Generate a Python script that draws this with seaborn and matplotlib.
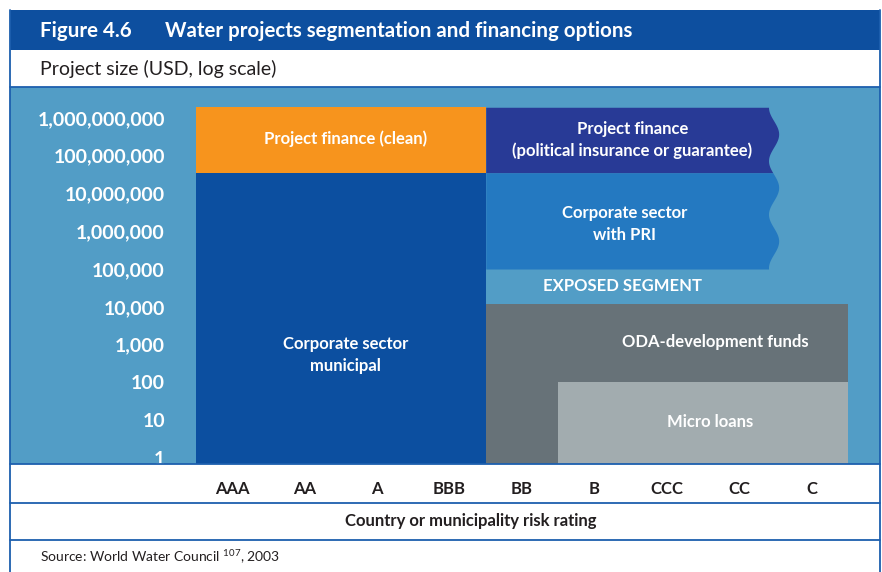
import numpy as np
import seaborn as sns
import matplotlib.pyplot as plt
from matplotlib.patches import Rectangle
from matplotlib.ticker import NullLocator

# ---- data -------------------------------------------------------------
ratings = ["AAA", "AA", "A", "BBB", "BB", "B", "CCC", "CC", "C"]
size_ticks = [1, 10, 100, 1_000, 10_000, 100_000, 1_000_000,
              10_000_000, 100_000_000, 1_000_000_000]

segments = ["Project finance (clean)",
            "Project finance\n(political insurance or guarantee)",
            "Corporate sector\nwith PRI",
            "Corporate sector\nmunicipal",
            "ODA-development funds",
            "Micro loans"]
seg_first = ["AAA", "BB", "BB", "AAA", "BB", "B"]
seg_last = ["BBB", "CC", "CC", "BBB", "C", "C"]
seg_low = [3.5e7, 3.5e7, 1e5, 0.5, 0.5, 0.5]
seg_high = [1.9e9, 1.9e9, 3.5e7, 3.5e7, 1.2e4, 100]
seg_wavy = [False, True, True, False, False, False]
seg_colors = ["#f7941d", "#283a96", "#2479c1", "#0c4fa0", "#677278", "#a2acaf"]

exposed_label = "EXPOSED SEGMENT"

# label anchors (category units, USD)
label_x = [1.57, 5.52, 5.41, 1.57, 6.66, 6.59]
label_y = [10**8.45, 10**8.41, 10**6.19, 10**2.72, 10**3.07, 10**0.95]

# ---- figure -----------------------------------------------------------
W, H = 882, 572
sns.set_theme(style="white")
plt.rcParams["font.family"] = ["Lato", "DejaVu Sans"]

fig = plt.figure(figsize=(W / 100, H / 100), dpi=100)


def fx(px):
    return px / W


def fy(py):
    return 1 - py / H


frame_blue = "#1d5fae"
panel = "#529dc6"
ink = "#231f20"

fig.add_artist(Rectangle((fx(10), fy(50)), fx(880) - fx(10), fy(10) - fy(50),
                         transform=fig.transFigure, color="#0d4f9f", lw=0, zorder=0))
fig.add_artist(Rectangle((fx(10), fy(464)), fx(880) - fx(10), fy(86.5) - fy(464),
                         transform=fig.transFigure, color=panel, lw=0, zorder=0))
for py in [86.5, 464, 503, 540]:
    fig.add_artist(plt.Line2D([fx(10), fx(880)], [fy(py), fy(py)],
                              transform=fig.transFigure, color=frame_blue, lw=1.3))
for px in [10, 880]:
    fig.add_artist(plt.Line2D([fx(px), fx(px)], [fy(10), 0],
                              transform=fig.transFigure, color=frame_blue, lw=1.3))

fig.text(fx(40), fy(31), "Figure 4.6", color="white", fontsize=14.8,
         fontweight="bold", va="center", ha="left")
fig.text(fx(165), fy(31), "Water projects segmentation and financing options",
         color="white", fontsize=14.8, fontweight="bold", va="center", ha="left")
fig.text(fx(40), fy(69), "Project size (USD, log scale)", color=ink,
         fontsize=14, va="center", ha="left")
fig.text(fx(471), fy(521), "Country or municipality risk rating", color=ink,
         fontsize=12, fontweight="bold", va="center", ha="center")
fig.text(fx(40), fy(557), r"Source: World Water Council $^{\mathregular{107}}$, 2003",
         color=ink, fontsize=10, va="center", ha="left")

# axes over the coloured panel
ax = fig.add_axes([fx(170), fy(464), fx(880) - fx(170), fy(86.5) - fy(464)])
ax.set_facecolor("none")
ax.set_yscale("log")
ax.set_xlim((170 - 232) / 72.5, (880 - 232) / 72.5)
ax.set_ylim(10 ** ((458 - 464) / 37.8), 10 ** ((458 - 86.5) / 37.8))

idx = {r: i for i, r in enumerate(ratings)}
for name, a, b, lo, hi, wavy, c in zip(segments, seg_first, seg_last, seg_low,
                                       seg_high, seg_wavy, seg_colors):
    i0, i1 = idx[a], idx[b]
    if wavy:
        t = np.linspace(np.log10(lo), np.log10(hi), 300)
        edge = i1 + 0.47 - 0.07 * np.cos(2 * np.pi * (9.28 - t) / 1.415)
        ax.fill_betweenx(10 ** t, i0 - 0.5, edge, color=c, lw=0)
    else:
        ax.bar((i0 + i1) / 2, hi - lo, bottom=lo, width=i1 - i0 + 1,
               color=c, lw=0)

for name, x, y in zip(segments, label_x, label_y):
    ax.text(x, y, name, color="white", fontsize=12, fontweight="bold",
            ha="center", va="center", linespacing=1.45)
ax.text(5.38, 10 ** 4.55, exposed_label, color="white", fontsize=12,
        fontweight="bold", ha="center", va="center")

ax.set_xticks(range(len(ratings)))
ax.set_xticklabels(ratings, fontweight="bold", fontsize=12, color=ink)
ax.set_yticks(size_ticks)
ax.set_yticklabels([f"{v:,}" for v in size_ticks], fontweight="bold",
                   fontsize=14, color="white")
ax.yaxis.set_minor_locator(NullLocator())
ax.tick_params(axis="x", length=0, pad=12)
ax.tick_params(axis="y", length=0, pad=3.6)
sns.despine(ax=ax, left=True, bottom=True)

fig.savefig("out.png", dpi=100)
